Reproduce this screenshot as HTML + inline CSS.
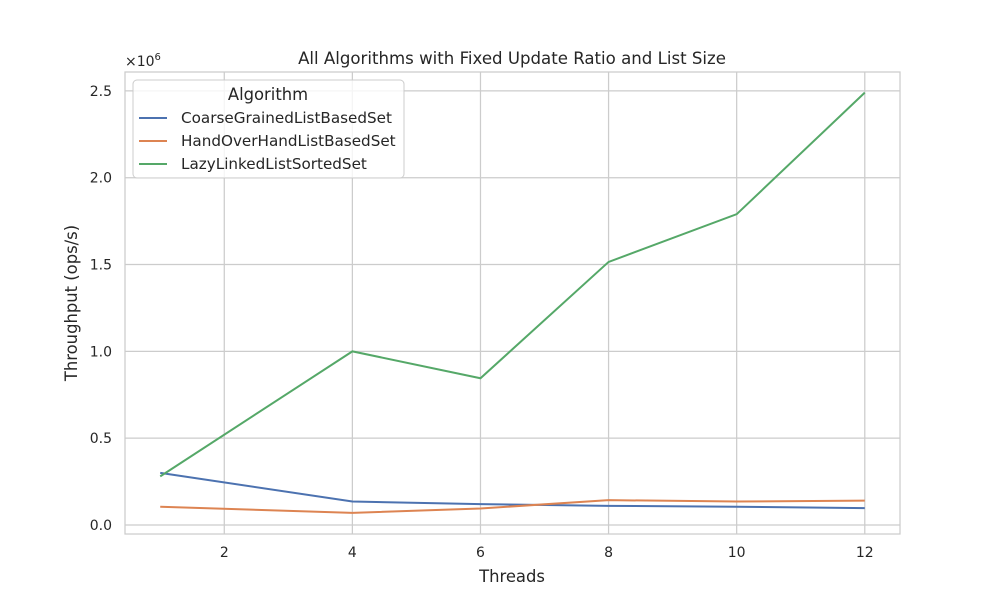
<!DOCTYPE html>
<html><head><meta charset="utf-8"><style>
body{margin:0;background:#fff;}
svg{font-family:"DejaVu Sans","Liberation Sans",sans-serif;}
</style></head><body>
<svg id="chart" width="1000" height="600" xmlns="http://www.w3.org/2000/svg">
<rect width="1000" height="600" fill="#fff"/>
<g id="grid"></g>
<rect x="125" y="72" width="775" height="462" fill="none" stroke="#cccccc" stroke-width="1.25"/>
<g id="series"></g>
<g id="ticks" font-size="14" fill="#262626"></g>
<text x="512" y="64" text-anchor="middle" font-size="16.6" fill="#262626">All Algorithms with Fixed Update Ratio and List Size</text>
<text x="512" y="582" text-anchor="middle" font-size="16.4" fill="#262626">Threads</text>
<text transform="translate(77,303) rotate(-90)" text-anchor="middle" font-size="16.4" fill="#262626">Throughput (ops/s)</text>
<text x="125" y="66" font-size="14" fill="#262626">×10<tspan font-size="10" dy="-6">6</tspan></text>
<g>
<rect x="133" y="80" width="271" height="98" rx="4" fill="#fff" fill-opacity="0.8" stroke="#cccccc"/>
<text x="268" y="100" text-anchor="middle" font-size="16.4" fill="#262626">Algorithm</text>
<g id="legend-items" font-size="15.2" fill="#262626"></g>
</g>
</svg>
<script>
const threads=[1,4,6,8,10,12];
const seriesNames=["CoarseGrainedListBasedSet","HandOverHandListBasedSet","LazyLinkedListSortedSet"];
const coarse=[0.30,0.135,0.12,0.11,0.105,0.097];
const handOver=[0.105,0.07,0.095,0.143,0.135,0.14];
const lazy=[0.28,1.0,0.845,1.515,1.79,2.49];
const xTicks=[2,4,6,8,10,12];
const yTicks=[0,0.5,1.0,1.5,2.0,2.5];
const colors=["#4c72b0","#dd8452","#55a868"];
const NS="http://www.w3.org/2000/svg";
const x=v=>125+(v-0.45)*775/12.1;
const y=v=>534-(v+0.052)*462/2.661;
function mk(t,a,p){const e=document.createElementNS(NS,t);for(const k in a)e.setAttribute(k,a[k]);p.appendChild(e);return e;}
const grid=document.getElementById('grid'),ticks=document.getElementById('ticks'),ser=document.getElementById('series'),leg=document.getElementById('legend-items');
xTicks.forEach(t=>{const l=mk('line',{x1:x(t),x2:x(t),y1:72,y2:534,stroke:'#cccccc','stroke-width':1.25},grid);


const tx=mk('text',{x:x(t),y:557,'text-anchor':'middle'},ticks);tx.textContent=t;

});
yTicks.forEach(t=>{const l=mk('line',{x1:125,x2:900,y1:y(t),y2:y(t),stroke:'#cccccc','stroke-width':1.25},grid);


const tx=mk('text',{x:112,y:y(t)+5,'text-anchor':'end'},ticks);tx.textContent=t.toFixed(1);

});
[coarse,handOver,lazy].forEach((d,i)=>{const p=mk('polyline',{points:d.map((v,j)=>x(threads[j])+','+y(v)).join(' '),fill:'none',stroke:colors[i],'stroke-width':2},ser);


const ly=118+i*23;
const ll=mk('line',{x1:139,x2:167,y1:ly,y2:ly,stroke:colors[i],'stroke-width':2},leg);


const lt=mk('text',{x:181,y:ly+5},leg);lt.textContent=seriesNames[i];

});
</script>
</body></html>
